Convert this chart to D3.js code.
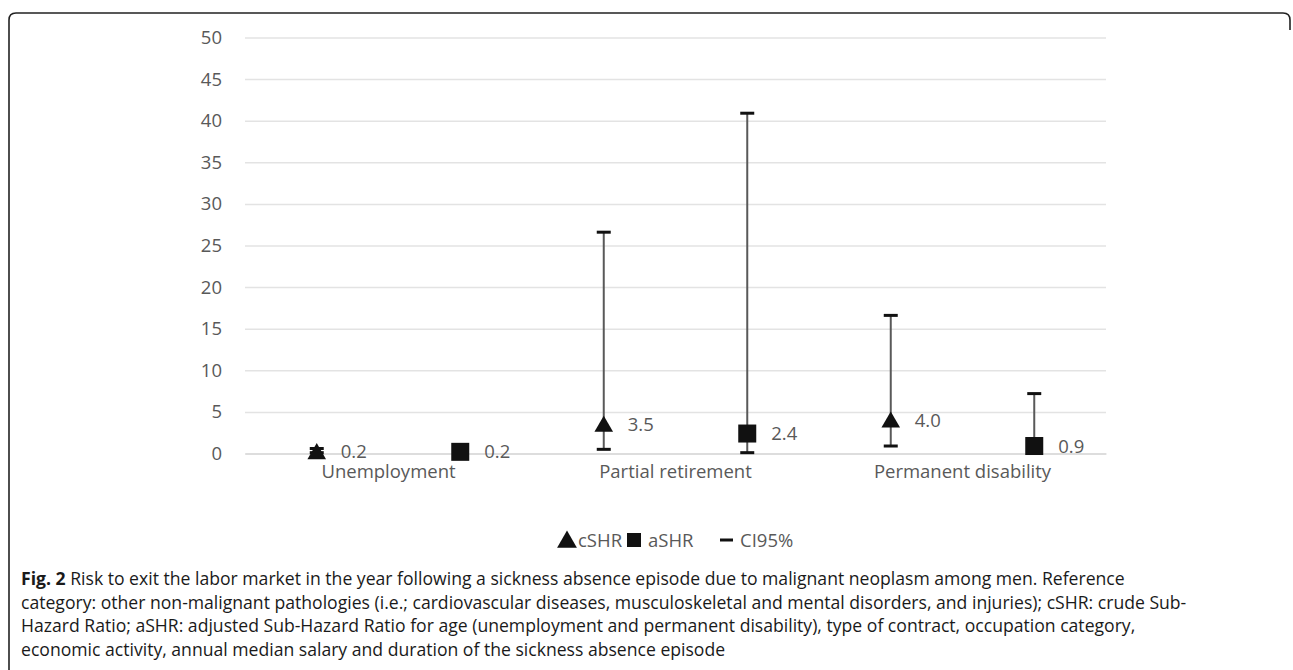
<!DOCTYPE html>
<html>
<head>
<meta charset="utf-8">
<script src="https://cdn.jsdelivr.net/npm/d3@7"></script>
<style>
  body { margin: 0; background: #fff; }
  svg { display: block; }
</style>
</head>
<body>
<svg width="1293" height="670"></svg>
<script>
// data
const categories = ["Unemployment", "Partial retirement", "Permanent disability"];
const seriesNames = ["cSHR", "aSHR"];
const cSHR = [0.2, 3.5, 4.0];
const aSHR = [0.2, 2.4, 0.9];
const cLow = [0.1, 0.5, 0.9];
const cHigh = [0.6, 26.6, 16.6];
const aLow = [0.1, 0.1, 0.1];
const aHigh = [0.7, 40.9, 7.2];
const yTicks = [0, 5, 10, 15, 20, 25, 30, 35, 40, 45, 50];

const grey = "#595959", black = "#111", grid = "#e3e3e3";
const font = "'Open Sans', sans-serif";
const fs = "18.5px";
const svg = d3.select("svg");

// frame, open at the bottom
svg.append("path")
  .attr("d", "M9,670 L9,20 Q9,13 16,13 L1283,13 Q1290,13 1290,20 L1290,30")
  .attr("fill", "none").attr("stroke", "#222").attr("stroke-width", 1.6);

let xScale = d3.scaleBand().domain(categories).range([245, 1106]);
let yScale = d3.scaleLinear().domain([0, 50]).range([453.5, 37.5]);
let inner = d3.scaleBand().domain(seriesNames).range([0, xScale.bandwidth()]);

// gridlines + y labels
let yAxis = d3.axisLeft(yScale).tickValues(yTicks).tickSize(-861).tickPadding(23);
svg.append("g").attr("id", "yAxisG")
  .attr("transform", "translate(245,0)")
  .call(yAxis);
svg.select("#yAxisG .domain").remove();
svg.selectAll("#yAxisG line").attr("stroke", grid).attr("stroke-width", 1.5);
svg.selectAll("#yAxisG text")
  .attr("fill", grey).style("font-family", font).style("font-size", fs);

// x axis labels
let xAxis = d3.axisBottom(xScale).tickSize(0).tickPadding(11);
svg.append("g").attr("id", "xAxisG")
  .attr("transform", "translate(0,453.5)")
  .call(xAxis);
svg.select("#xAxisG .domain").attr("stroke", "#d9d9d9").attr("stroke-width", 1.5);
svg.selectAll("#xAxisG text")
  .attr("fill", grey).style("font-family", font).style("font-size", fs);

const rows = categories.map((c, i) => ([
  {cat: c, s: "cSHR", v: cSHR[i], lo: cLow[i], hi: cHigh[i]},
  {cat: c, s: "aSHR", v: aSHR[i], lo: aLow[i], hi: aHigh[i]}
])).flat();
const px = d => xScale(d.cat) + inner(d.s) + inner.bandwidth() / 2;

// error bars
const eb = svg.append("g").selectAll("g").data(rows).join("g");
eb.append("line")
  .attr("x1", px).attr("x2", px)
  .attr("y1", d => yScale(d.lo)).attr("y2", d => yScale(d.hi))
  .attr("stroke", grey).attr("stroke-width", 2);
eb.selectAll("line.cap").data(d => [[d, d.lo], [d, d.hi]]).join("line")
  .attr("class", "cap")
  .attr("x1", d => px(d[0]) - 7).attr("x2", d => px(d[0]) + 7)
  .attr("y1", d => yScale(d[1])).attr("y2", d => yScale(d[1]))
  .attr("stroke", black).attr("stroke-width", 3);

// markers
const tri = d3.symbol().type(d3.symbolTriangle).size(150);
svg.append("g").selectAll("path").data(rows.filter(d => d.s == "cSHR")).join("path")
  .attr("d", tri)
  .attr("transform", d => `translate(${px(d)},${yScale(d.v) + 2})`)
  .attr("fill", black);
svg.append("g").selectAll("rect").data(rows.filter(d => d.s == "aSHR")).join("rect")
  .attr("x", d => px(d) - 9).attr("y", d => yScale(d.v) - 9)
  .attr("width", 18).attr("height", 18)
  .attr("fill", black);

// value labels
svg.append("g").selectAll("text").data(rows).join("text")
  .attr("x", d => px(d) + 24).attr("y", d => yScale(d.v) + 6.5)
  .attr("fill", grey).style("font-family", font).style("font-size", fs)
  .text(d => d.v.toFixed(1));

// legend
const lg = svg.append("g").style("font-family", font).style("font-size", fs).attr("fill", grey);
lg.append("path").attr("d", tri.size(170)()).attr("transform", "translate(567,542)").attr("fill", black);
lg.append("text").attr("x", 578).attr("y", 547).text("cSHR");
lg.append("rect").attr("x", 627).attr("y", 533).attr("width", 14).attr("height", 14).attr("fill", black);
lg.append("text").attr("x", 648).attr("y", 547).text("aSHR");
lg.append("line").attr("x1", 720).attr("x2", 733).attr("y1", 540).attr("y2", 540)
  .attr("stroke", black).attr("stroke-width", 3);
lg.append("text").attr("x", 740).attr("y", 547).text("CI95%");

// caption
const caption = [
  [["Fig. 2", true], [" Risk to exit the labor market in the year following a sickness absence episode due to malignant neoplasm among men. Reference", false]],
  [["category: other non-malignant pathologies (i.e.; cardiovascular diseases, musculoskeletal and mental disorders, and injuries); cSHR: crude Sub-", false]],
  [["Hazard Ratio; aSHR: adjusted Sub-Hazard Ratio for age (unemployment and permanent disability), type of contract, occupation category,", false]],
  [["economic activity, annual median salary and duration of the sickness absence episode", false]]
];
const cap = svg.append("g").style("font-family", font).style("font-size", "17.6px").attr("fill", "#1a1a1a");
caption.forEach((line, i) => {
  const t = cap.append("text").attr("x", 21).attr("y", 585 + i * 23.7);
  line.forEach(([s, b]) => t.append("tspan").style("font-weight", b ? "bold" : "normal").text(s));
});
</script>
</body>
</html>
